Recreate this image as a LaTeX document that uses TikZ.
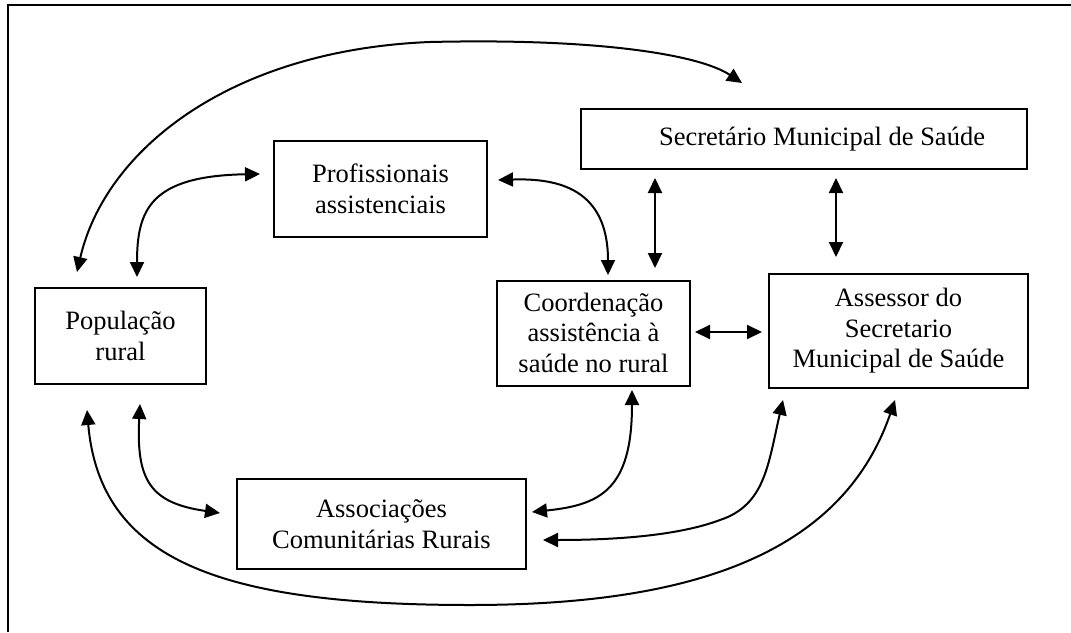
\documentclass[tikz,border=0pt]{standalone}
\usepackage{fontspec}
\setmainfont{Liberation Serif}
\usetikzlibrary{arrows.meta}
\begin{document}
\begin{tikzpicture}[x=1pt,y=-1pt,
  box/.style={draw, line width=1.8pt, inner sep=0pt, align=center,
    font=\fontsize{26.5}{30.5}\selectfont},
  link/.style={line width=2pt,
    {Triangle[length=15pt,width=14pt]}-{Triangle[length=15pt,width=14pt]}},
  frame/.style={line width=1.8pt}]
\useasboundingbox (0,0) rectangle (1071,632);
% frame (clipped at right and bottom)
\draw[frame] (8,632) -- (8,5) -- (1071,5);
% boxes
\node[box, minimum width=213pt, minimum height=96pt] (prof) at (380.5,189) {Profissionais\\assistenciais};
\node[box, minimum width=446pt, minimum height=60pt] (sec) at (804,139) {\hspace*{36pt}Secretário Municipal de Saúde};
\node[box, minimum width=171pt, minimum height=96pt] (pop) at (120.5,336) {População\\rural};
\node[box, minimum width=193pt, minimum height=105pt] (coord) at (593.5,333.5) {\\[-14pt]Coordenação\\assistência à\\saúde no rural};
\node[box, minimum width=259pt, minimum height=114pt] (ass) at (898.5,331) {Assessor do\\Secretario\\Municipal de Saúde};
\node[box, minimum width=289pt, minimum height=90pt] (assoc) at (381.5,524) {Associações\\Comunitárias Rurais};
% connector end points (gaps next to the boxes)
\coordinate (popN1) at (77,272);
\coordinate (popN2) at (137,277);
\coordinate (popS1) at (87,410);
\coordinate (popS2) at (140,404);
\coordinate (secNW) at (742,83);
\coordinate (profW) at (260,174);
\coordinate (profE) at (498,180);
\coordinate (coordN) at (608,275);
\coordinate (coordS) at (632,390);
\coordinate (assocW) at (220,513);
\coordinate (assocE1) at (532,512);
\coordinate (assocE2) at (543,540);
\coordinate (assS1) at (783,400);
\coordinate (assS2) at (895,400);
\coordinate (secS1) at (655,178);
\coordinate (coordN2) at (655,268);
\coordinate (secS2) at (836,178);
\coordinate (assN) at (836,257);
\coordinate (coordE) at (695,332);
\coordinate (assW) at (762,332);
% curved connectors
\draw[link] (popN1) .. controls (105,150) and (230,50) .. (430,42)
  .. controls (600,38) and (700,55) .. (secNW);
\draw[link] (popN2) .. controls (137,210) and (150,176) .. (profW);
\draw[link] (popS2) .. controls (136,480) and (150,503) .. (assocW);
\draw[link] (popS1) .. controls (100,560) and (220,605) .. (470,605)
  .. controls (680,605) and (840,560) .. (assS2);
\draw[link] (profE) .. controls (560,178) and (608,190) .. (coordN);
\draw[link] (coordS) .. controls (632,490) and (600,505) .. (assocE1);
\draw[link] (assS1) .. controls (768,465) and (765,505) .. (720,520)
  .. controls (680,535) and (620,540) .. (assocE2);
% straight connectors
\draw[link] (secS1) -- (coordN2);
\draw[link] (secS2) -- (assN);
\draw[link] (coordE) -- (assW);
\end{tikzpicture}
\end{document}
